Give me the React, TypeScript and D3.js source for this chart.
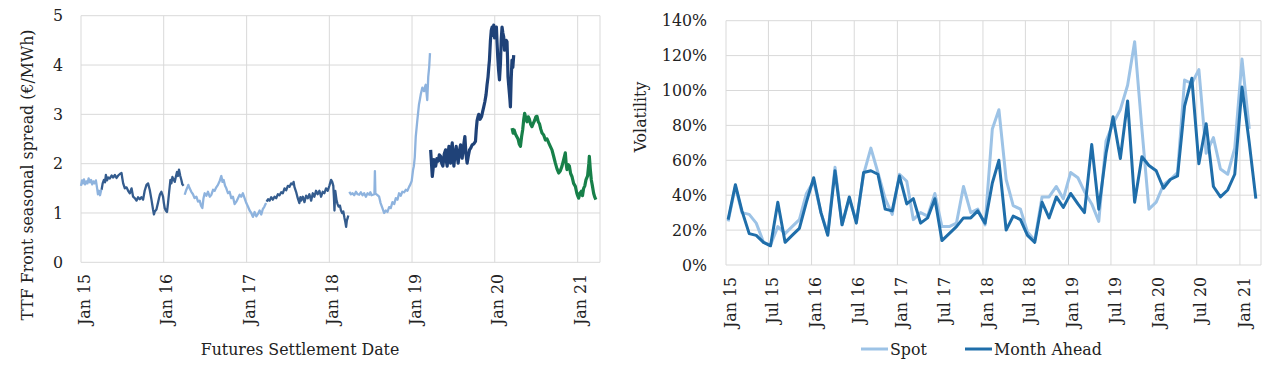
import React from "react";
import * as d3 from "d3";

// ---------- Left chart: TTF front seasonal spread (decimal year, €/MWh) ----------
const seg2015: [number, number][] = [
  [2015.0, 1.55], [2015.012, 1.66], [2015.024, 1.6], [2015.036, 1.68], [2015.05, 1.58], [2015.064, 1.64],
  [2015.078, 1.6], [2015.092, 1.7], [2015.108, 1.62], [2015.122, 1.67], [2015.136, 1.58], [2015.15, 1.64],
  [2015.165, 1.6], [2015.18, 1.66], [2015.195, 1.5], [2015.205, 1.38], [2015.218, 1.45], [2015.23, 1.36], [2015.245, 1.47],
];
const seg2016: [number, number][] = [
  [2015.249, 1.47], [2015.262, 1.6], [2015.277, 1.67], [2015.29, 1.62], [2015.301, 1.77], [2015.315, 1.66],
  [2015.329, 1.72], [2015.349, 1.7], [2015.37, 1.76], [2015.389, 1.72], [2015.41, 1.77], [2015.43, 1.71],
  [2015.45, 1.76], [2015.47, 1.79], [2015.49, 1.81], [2015.5, 1.7], [2015.51, 1.6], [2015.53, 1.5],
  [2015.55, 1.52], [2015.57, 1.45], [2015.59, 1.4], [2015.611, 1.5], [2015.63, 1.33], [2015.65, 1.3],
  [2015.671, 1.25], [2015.69, 1.32], [2015.711, 1.28], [2015.73, 1.32], [2015.751, 1.27], [2015.77, 1.45],
  [2015.792, 1.57], [2015.811, 1.6], [2015.831, 1.47], [2015.852, 1.27], [2015.871, 1.07], [2015.882, 0.97],
  [2015.892, 1.03], [2015.912, 1.07], [2015.93, 1.2], [2015.943, 1.3], [2015.955, 1.38], [2015.972, 1.43],
  [2015.992, 1.33], [2016.002, 1.2], [2016.012, 1.1], [2016.025, 1.05], [2016.04, 1.02], [2016.052, 1.2],
  [2016.064, 1.4], [2016.081, 1.67], [2016.093, 1.6], [2016.105, 1.73], [2016.12, 1.68], [2016.133, 1.63],
  [2016.147, 1.74], [2016.16, 1.83], [2016.172, 1.75], [2016.184, 1.88], [2016.2, 1.75], [2016.213, 1.67],
  [2016.225, 1.58], [2016.24, 1.55],
];
const seg2017: [number, number][] = [
  [2016.253, 1.37], [2016.268, 1.45], [2016.281, 1.5], [2016.297, 1.57], [2016.313, 1.5], [2016.333, 1.43],
  [2016.353, 1.38], [2016.372, 1.3], [2016.394, 1.33], [2016.414, 1.23], [2016.434, 1.25], [2016.45, 1.15],
  [2016.466, 1.1], [2016.48, 1.3], [2016.494, 1.4], [2016.514, 1.35], [2016.534, 1.43], [2016.555, 1.33],
  [2016.575, 1.37], [2016.595, 1.47], [2016.614, 1.45], [2016.634, 1.52], [2016.654, 1.57], [2016.675, 1.65],
  [2016.695, 1.75], [2016.709, 1.63], [2016.723, 1.67], [2016.74, 1.55], [2016.755, 1.5], [2016.775, 1.4],
  [2016.795, 1.43], [2016.815, 1.3], [2016.835, 1.33], [2016.855, 1.18], [2016.876, 1.23], [2016.896, 1.3],
  [2016.916, 1.37], [2016.935, 1.33], [2016.955, 1.4], [2016.975, 1.3], [2016.996, 1.2], [2017.016, 1.13],
  [2017.036, 1.05], [2017.056, 1.0], [2017.076, 0.92], [2017.096, 1.02], [2017.117, 0.93], [2017.137, 0.98],
  [2017.157, 1.05], [2017.177, 0.97], [2017.196, 1.08], [2017.215, 1.13], [2017.235, 1.2],
];
const seg2018: [number, number][] = [
  [2017.241, 1.23], [2017.26, 1.28], [2017.277, 1.25], [2017.297, 1.32], [2017.317, 1.27], [2017.337, 1.33],
  [2017.357, 1.3], [2017.378, 1.38], [2017.398, 1.36], [2017.418, 1.42], [2017.438, 1.4], [2017.458, 1.5],
  [2017.478, 1.46], [2017.498, 1.55], [2017.518, 1.53], [2017.538, 1.6], [2017.558, 1.58], [2017.568, 1.63],
  [2017.578, 1.53], [2017.598, 1.43], [2017.618, 1.3], [2017.638, 1.2], [2017.65, 1.32], [2017.659, 1.25],
  [2017.679, 1.33], [2017.699, 1.22], [2017.719, 1.35], [2017.739, 1.3], [2017.759, 1.38], [2017.78, 1.25],
  [2017.8, 1.4], [2017.819, 1.33], [2017.839, 1.45], [2017.859, 1.38], [2017.88, 1.45], [2017.9, 1.33],
  [2017.92, 1.43], [2017.94, 1.4], [2017.96, 1.5], [2017.98, 1.45], [2018.0, 1.55], [2018.021, 1.67],
  [2018.035, 1.63], [2018.048, 1.55], [2018.056, 1.3], [2018.062, 1.05], [2018.072, 1.45], [2018.088, 1.25],
  [2018.1, 1.18], [2018.112, 1.13], [2018.128, 1.15], [2018.141, 1.05], [2018.155, 1.0], [2018.169, 1.03],
  [2018.183, 0.9], [2018.193, 0.82], [2018.203, 0.72], [2018.212, 0.85], [2018.222, 0.9], [2018.229, 0.95],
];
const seg2019: [number, number][] = [
  [2018.241, 1.43], [2018.261, 1.38], [2018.281, 1.4], [2018.301, 1.36], [2018.322, 1.43], [2018.342, 1.38],
  [2018.361, 1.37], [2018.381, 1.42], [2018.401, 1.36], [2018.421, 1.4], [2018.442, 1.33], [2018.462, 1.4],
  [2018.482, 1.37], [2018.496, 1.42], [2018.51, 1.36], [2018.545, 1.38], [2018.551, 1.85], [2018.557, 1.4],
  [2018.575, 1.37], [2018.602, 1.33], [2018.62, 1.2], [2018.642, 1.1], [2018.662, 1.0], [2018.683, 1.05],
  [2018.703, 1.02], [2018.723, 1.12], [2018.743, 1.1], [2018.763, 1.22], [2018.784, 1.18], [2018.804, 1.3],
  [2018.824, 1.27], [2018.843, 1.4], [2018.863, 1.35], [2018.883, 1.43], [2018.904, 1.42], [2018.924, 1.47],
  [2018.944, 1.45], [2018.964, 1.53], [2018.98, 1.58], [2018.996, 1.65], [2019.012, 1.87], [2019.022, 1.95],
  [2019.033, 2.13], [2019.045, 2.55], [2019.064, 2.88], [2019.084, 3.2], [2019.095, 3.3], [2019.105, 3.4],
  [2019.124, 3.54], [2019.135, 3.5], [2019.145, 3.47], [2019.155, 3.55], [2019.165, 3.6], [2019.184, 3.29],
  [2019.196, 3.76], [2019.207, 3.95], [2019.217, 4.24],
];
const seg2020: [number, number][] = [
  [2019.225, 2.28], [2019.245, 1.74], [2019.255, 1.9], [2019.265, 2.08], [2019.276, 1.98], [2019.286, 1.95],
  [2019.3, 2.1], [2019.317, 2.05], [2019.33, 2.18], [2019.346, 2.15], [2019.36, 2.0], [2019.373, 1.95],
  [2019.39, 2.2], [2019.406, 2.28], [2019.415, 2.05], [2019.425, 1.95], [2019.436, 2.2], [2019.446, 2.35],
  [2019.456, 2.1], [2019.466, 2.01], [2019.476, 2.3], [2019.486, 2.42], [2019.496, 2.15], [2019.506, 1.95],
  [2019.52, 2.2], [2019.534, 2.35], [2019.546, 2.15], [2019.558, 2.01], [2019.572, 2.25], [2019.587, 2.38],
  [2019.596, 2.2], [2019.606, 2.11], [2019.622, 2.35], [2019.639, 2.55], [2019.652, 2.2], [2019.666, 2.01],
  [2019.68, 2.15], [2019.695, 2.28], [2019.711, 2.32], [2019.727, 2.38], [2019.747, 2.4], [2019.767, 2.45],
  [2019.777, 2.7], [2019.787, 2.88], [2019.797, 2.95], [2019.807, 3.0], [2019.823, 2.9], [2019.84, 2.95],
  [2019.853, 3.05], [2019.867, 3.15], [2019.88, 3.25], [2019.895, 3.4], [2019.907, 3.6], [2019.919, 3.76],
  [2019.928, 3.95], [2019.936, 4.1], [2019.948, 4.5], [2019.958, 4.7], [2019.968, 4.77], [2019.978, 4.6],
  [2019.988, 4.81], [2019.998, 4.55], [2020.008, 4.7], [2020.02, 4.77], [2020.028, 4.45], [2020.036, 4.17],
  [2020.046, 3.9], [2020.057, 3.7], [2020.069, 4.04], [2020.078, 4.5], [2020.088, 4.77], [2020.098, 4.65],
  [2020.108, 4.57], [2020.118, 4.3], [2020.129, 4.37], [2020.138, 4.5], [2020.148, 4.47], [2020.155, 4.1],
  [2020.16, 3.76], [2020.168, 3.6], [2020.177, 3.42], [2020.183, 3.3], [2020.189, 3.15], [2020.198, 3.7],
  [2020.208, 4.1], [2020.218, 3.95], [2020.229, 4.2],
];
const seg2021: [number, number][] = [
  [2020.209, 2.72], [2020.222, 2.62], [2020.235, 2.68], [2020.249, 2.6], [2020.265, 2.55], [2020.281, 2.5],
  [2020.295, 2.4], [2020.31, 2.35], [2020.324, 2.55], [2020.337, 2.69], [2020.35, 2.9], [2020.361, 3.02],
  [2020.375, 2.92], [2020.389, 2.85], [2020.404, 2.95], [2020.418, 2.9], [2020.433, 2.8], [2020.449, 2.75],
  [2020.466, 2.82], [2020.482, 2.88], [2020.496, 2.95], [2020.51, 2.96], [2020.525, 2.85], [2020.539, 2.81],
  [2020.555, 2.7], [2020.57, 2.62], [2020.59, 2.58], [2020.611, 2.48], [2020.631, 2.5], [2020.651, 2.42],
  [2020.67, 2.35], [2020.69, 2.28], [2020.71, 2.15], [2020.731, 2.01], [2020.75, 1.9], [2020.771, 1.81],
  [2020.79, 1.85], [2020.811, 1.95], [2020.831, 2.08], [2020.851, 2.22], [2020.861, 2.0], [2020.871, 1.88],
  [2020.885, 1.98], [2020.9, 1.95], [2020.915, 1.8], [2020.931, 1.74], [2020.951, 1.6], [2020.972, 1.54],
  [2020.99, 1.4], [2021.0, 1.35], [2021.012, 1.3], [2021.028, 1.4], [2021.044, 1.44], [2021.058, 1.35],
  [2021.072, 1.5], [2021.086, 1.55], [2021.1, 1.67], [2021.12, 1.75], [2021.135, 2.0], [2021.141, 2.15],
  [2021.152, 1.9], [2021.165, 1.67], [2021.178, 1.55], [2021.193, 1.4], [2021.207, 1.32], [2021.22, 1.27],
];
const spreadSegments = [
  { data: seg2015, color: "#8eb3de", width: 2.3 },
  { data: seg2016, color: "#345c8e", width: 2.3 },
  { data: seg2017, color: "#8eb3de", width: 2.3 },
  { data: seg2018, color: "#345c8e", width: 2.3 },
  { data: seg2019, color: "#8eb3de", width: 2.3 },
  { data: seg2020, color: "#1f4278", width: 3.2 },
  { data: seg2021, color: "#178049", width: 3.2 },
];
const spreadTicks = [0, 1, 2, 3, 4, 5];
const spreadYears = [2015, 2016, 2017, 2018, 2019, 2020, 2021];

// ---------- Right chart: monthly volatility (%), starting Jan 2015 ----------
const volStart = [2015, 0];
const spotVol = [
  25, 45, 30, 29, 24, 13, 11.5, 22, 18, 22, 26, 41, 48, 30, 18, 56, 23, 38, 25, 52, 67, 53, 38, 29,
  52, 48, 26, 30, 28, 41, 22, 22, 24, 45, 30, 32, 23, 78, 89, 49, 34, 32, 19, 14, 39, 39, 45, 38,
  53, 50, 42, 35, 25, 71, 81, 89, 103, 128, 78, 32, 36, 46, 49, 53, 106, 104, 112, 64, 73, 55, 52, 67,
  118, 78,
];
const monthAheadVol = [
  26, 46, 31, 18, 17, 13, 11, 36, 13, 17, 21, 36, 50, 30, 17, 54, 23, 39, 24, 53, 54, 52, 32, 31,
  51, 35, 38, 24, 27, 38, 14, 18, 22, 27, 27, 31, 24, 47, 60, 20, 28, 26, 17, 13, 36, 27, 39, 33,
  41, 35, 30, 69, 32, 64, 85, 61, 94, 36, 62, 57, 54, 44, 49, 51, 91, 107, 58, 81, 45, 39, 43, 52,
  102, 70, 38,
];
const volTicks = [0, 20, 40, 60, 80, 100, 120, 140];
const legendItems = [
  { name: "Spot", color: "#9dc3e6" },
  { name: "Month Ahead", color: "#1f6eaa" },
];

const FONT = "'DejaVu Serif', serif";
const TEXT = "#222222";
const GRID = "#d9d9d9";
const FS = 15.8;

function fromDec(t: number): Date {
  const y = Math.floor(t);
  const a = new Date(y, 0, 1).getTime();
  const b = new Date(y + 1, 0, 1).getTime();
  return new Date(a + (t - y) * (b - a));
}

export default function App() {
  const lx = d3.scaleTime().domain([new Date(2015, 0, 1), fromDec(2021.27)]).range([81, 600]);
  const ly = d3.scaleLinear().domain([0, 5]).range([262.3, 15.7]);
  const lline = d3
    .line<[number, number]>()
    .x((d) => lx(fromDec(d[0])))
    .y((d) => ly(d[1]));

  const rx = d3.scaleTime().domain([new Date(2015, 0, 1), new Date(2021, 3, 1)]).range([726, 1261]);
  const ry = d3.scaleLinear().domain([0, 140]).range([265, 20.7]);
  const rline = d3
    .line<number>()
    .x((_, i) => rx(new Date(volStart[0], volStart[1] + i, 10)))
    .y((d) => ry(d));
  const rTicks = d3.timeMonth.every(6)!.range(new Date(2015, 0, 1), new Date(2021, 1, 1));
  const fmt = d3.timeFormat("%b %y");

  return (
    <svg
      width={1279}
      height={377}
      style={{ position: "absolute", left: 0, top: 0, background: "#fff" }}
      fontFamily={FONT}
    >
      <rect x={0} y={0} width={1279} height={377} fill="#fff" />
      {/* ----- Left chart ----- */}
      <g>
        {spreadTicks.map((t) => (
          <line key={"lh" + t} x1={81} x2={600} y1={ly(t)} y2={ly(t)} stroke={GRID} strokeWidth={1} />
        ))}
        {spreadYears.map((y) => (
          <line key={"lv" + y} x1={lx(new Date(y, 0, 1))} x2={lx(new Date(y, 0, 1))} y1={ly(5)} y2={ly(0)} stroke={GRID} strokeWidth={1} />
        ))}
        <line x1={600} x2={600} y1={ly(5)} y2={ly(0)} stroke={GRID} strokeWidth={1} />
        {spreadSegments.map((s, i) => (
          <path key={"seg" + i} d={lline(s.data) || ""} fill="none" stroke={s.color} strokeWidth={s.width} strokeLinejoin="round" />
        ))}
        {spreadTicks.map((t) => (
          <text key={"lyt" + t} x={63} y={ly(t)} dy="0.36em" textAnchor="end" fontSize={FS} fill={TEXT}>
            {t}
          </text>
        ))}
        {spreadYears.map((y) => {
          const x = lx(new Date(y, 0, 1)) + 3;
          return (
            <text key={"lxt" + y} transform={`translate(${x},274) rotate(-90)`} dy="0.36em" textAnchor="end" fontSize={FS} fill={TEXT}>
              {fmt(new Date(y, 0, 1))}
            </text>
          );
        })}
        <text transform="translate(27,175) rotate(-90)" dy="0.36em" textAnchor="middle" fontSize={FS} fill={TEXT}>
          TTF Front seasonal spread (€/MWh)
        </text>
        <text x={300} y={355} textAnchor="middle" fontSize={FS} fill={TEXT}>
          Futures Settlement Date
        </text>
      </g>

      {/* ----- Right chart ----- */}
      <g>
        {volTicks.map((t) => (
          <line key={"rh" + t} x1={726} x2={1261} y1={ry(t)} y2={ry(t)} stroke={GRID} strokeWidth={1} />
        ))}
        {rTicks.map((d, i) => (
          <line key={"rv" + i} x1={rx(d)} x2={rx(d)} y1={ry(140)} y2={ry(0)} stroke={GRID} strokeWidth={1} />
        ))}
        <line x1={1261} x2={1261} y1={ry(140)} y2={ry(0)} stroke={GRID} strokeWidth={1} />
        <path d={rline(spotVol) || ""} fill="none" stroke={legendItems[0].color} strokeWidth={3} strokeLinejoin="round" />
        <path d={rline(monthAheadVol) || ""} fill="none" stroke={legendItems[1].color} strokeWidth={3} strokeLinejoin="round" />
        {volTicks.map((t) => (
          <text key={"ryt" + t} x={707} y={ry(t)} dy="0.36em" textAnchor="end" fontSize={FS} fill={TEXT}>
            {t}%
          </text>
        ))}
        {rTicks.map((d, i) => (
          <text key={"rxt" + i} transform={`translate(${rx(d) + 4},277) rotate(-90)`} dy="0.36em" textAnchor="end" fontSize={FS} fill={TEXT}>
            {fmt(d)}
          </text>
        ))}
        <text transform="translate(640,117) rotate(-90)" dy="0.36em" textAnchor="middle" fontSize={FS} fill={TEXT}>
          Volatility
        </text>
        {legendItems.map((it, i) => {
          const x0 = i === 0 ? 861 : 965;
          return (
            <g key={"lg" + i}>
              <line x1={x0} x2={x0 + 27} y1={349} y2={349} stroke={it.color} strokeWidth={3} />
              <text x={x0 + 29} y={355} fontSize={FS} fill={TEXT}>
                {it.name}
              </text>
            </g>
          );
        })}
      </g>
    </svg>
  );
}
